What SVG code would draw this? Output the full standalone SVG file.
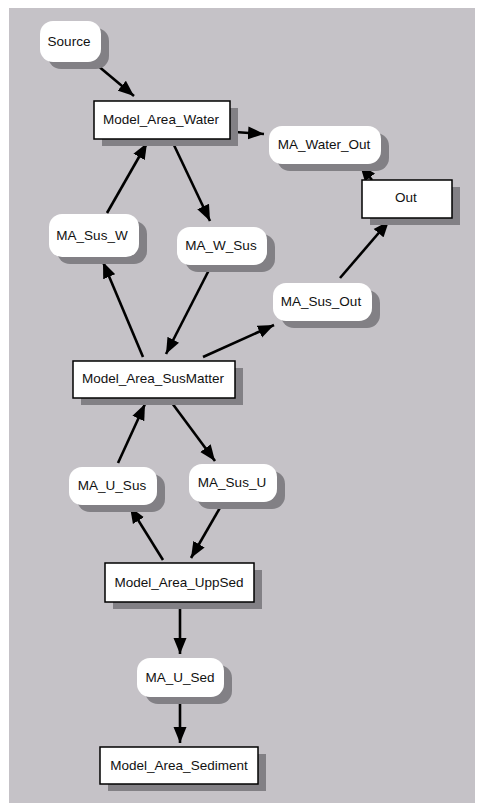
<svg xmlns="http://www.w3.org/2000/svg" width="477" height="805" viewBox="0 0 477 805">
<defs>
<style>
.bg{fill:#c5c2c7}
.sh{fill:#828085}
.box{fill:#fff;stroke:#000;stroke-width:1.5}
.rnd{fill:#fff}
.t{font-family:"Liberation Sans",Arial,sans-serif;font-size:13.5px;fill:#111;text-anchor:middle}
.e{stroke:#000;stroke-width:2.6;fill:none;marker-end:url(#ah)}
</style>
<marker id="ah" markerUnits="userSpaceOnUse" markerWidth="17" markerHeight="14" refX="16" refY="7" orient="auto">
<path d="M0,0.5 L16,7 L0,13.5 Z" fill="#000"/>
</marker>
</defs>
<rect width="477" height="805" fill="#fff"/>
<rect class="bg" x="9" y="8" width="466" height="795"/>

<g id="connectors">
<line class="e" x1="97" y1="65" x2="134" y2="96"/>
<line class="e" x1="107" y1="213" x2="147" y2="143"/>
<line class="e" x1="173" y1="143" x2="210" y2="221"/>
<line class="e" x1="235" y1="132" x2="264" y2="134"/>
<line class="e" x1="372" y1="180" x2="360" y2="165"/>
<line class="e" x1="340" y1="278" x2="389" y2="221"/>
<line class="e" x1="203" y1="357" x2="274" y2="325"/>
<line class="e" x1="210" y1="268" x2="166" y2="354"/>
<line class="e" x1="143" y1="357" x2="103" y2="262"/>
<line class="e" x1="172" y1="403" x2="215" y2="461"/>
<line class="e" x1="118" y1="463" x2="145" y2="404"/>
<line class="e" x1="163" y1="560" x2="130" y2="507"/>
<line class="e" x1="221" y1="506" x2="191" y2="558"/>
<line class="e" x1="180" y1="605" x2="180" y2="654"/>
<line class="e" x1="180" y1="700" x2="180" y2="743"/>
</g>

<g id="Source">
<rect class="sh" x="48" y="28" width="61" height="41" rx="13"/>
<rect class="rnd" x="40" y="21" width="61" height="41" rx="13"/>
<text class="t" x="69" y="46">Source</text>
</g>
<g id="Model_Area_Water">
<rect class="sh" x="102" y="108" width="136" height="38"/>
<rect class="box" x="94" y="101" width="136" height="38"/>
<text class="t" x="161" y="124">Model_Area_Water</text>
</g>
<g id="MA_Water_Out">
<rect class="sh" x="277" y="133" width="112" height="38" rx="13"/>
<rect class="rnd" x="269" y="126" width="112" height="38" rx="13"/>
<text class="t" x="324" y="149">MA_Water_Out</text>
</g>
<g id="Out">
<rect class="sh" x="370" y="187" width="90" height="38"/>
<rect class="box" x="362" y="180" width="90" height="38"/>
<text class="t" x="406" y="202">Out</text>
</g>
<g id="MA_Sus_W">
<rect class="sh" x="57" y="221" width="90" height="43" rx="13"/>
<rect class="rnd" x="49" y="214" width="90" height="43" rx="13"/>
<text class="t" x="92" y="240">MA_Sus_W</text>
</g>
<g id="MA_W_Sus">
<rect class="sh" x="185" y="234" width="90" height="38" rx="13"/>
<rect class="rnd" x="177" y="227" width="90" height="38" rx="13"/>
<text class="t" x="221" y="250">MA_W_Sus</text>
</g>
<g id="MA_Sus_Out">
<rect class="sh" x="281" y="290" width="99" height="38" rx="13"/>
<rect class="rnd" x="273" y="283" width="99" height="38" rx="13"/>
<text class="t" x="321" y="306">MA_Sus_Out</text>
</g>
<g id="Model_Area_SusMatter">
<rect class="sh" x="81" y="368" width="162" height="37"/>
<rect class="box" x="73" y="361" width="162" height="37"/>
<text class="t" x="153" y="383">Model_Area_SusMatter</text>
</g>
<g id="MA_U_Sus">
<rect class="sh" x="77" y="474" width="88" height="38" rx="13"/>
<rect class="rnd" x="69" y="467" width="88" height="38" rx="13"/>
<text class="t" x="112" y="490">MA_U_Sus</text>
</g>
<g id="MA_Sus_U">
<rect class="sh" x="197" y="471" width="88" height="38" rx="13"/>
<rect class="rnd" x="189" y="464" width="88" height="38" rx="13"/>
<text class="t" x="232" y="487">MA_Sus_U</text>
</g>
<g id="Model_Area_UppSed">
<rect class="sh" x="113" y="570" width="149" height="39"/>
<rect class="box" x="105" y="563" width="149" height="39"/>
<text class="t" x="179" y="587">Model_Area_UppSed</text>
</g>
<g id="MA_U_Sed">
<rect class="sh" x="145" y="665" width="87" height="39" rx="13"/>
<rect class="rnd" x="137" y="658" width="87" height="39" rx="13"/>
<text class="t" x="180" y="682">MA_U_Sed</text>
</g>
<g id="Model_Area_Sediment">
<rect class="sh" x="108" y="754" width="158" height="37"/>
<rect class="box" x="100" y="747" width="158" height="37"/>
<text class="t" x="179" y="770">Model_Area_Sediment</text>
</g>
</svg>
